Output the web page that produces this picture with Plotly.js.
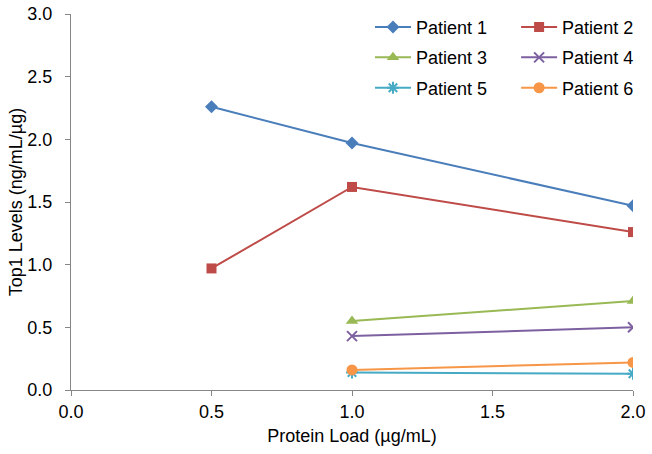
<!DOCTYPE html>
<html><head><meta charset="utf-8">
<script src="https://cdn.plot.ly/plotly-3.0.1.min.js"></script>
<style>html,body{margin:0;padding:0;background:#fff}#chart{width:652px;height:454px}</style>
</head><body><div id="chart"></div>
<script>
const patients = ["Patient 1","Patient 2","Patient 3","Patient 4","Patient 5","Patient 6"];
const xP1 = [0.5, 1.0, 2.0];
const yP1 = [2.26, 1.97, 1.47];
const xP2 = [0.5, 1.0, 2.0];
const yP2 = [0.97, 1.62, 1.26];
const xP3 = [1.0, 2.0];
const yP3 = [0.55, 0.71];
const xP4 = [1.0, 2.0];
const yP4 = [0.43, 0.50];
const xP5 = [1.0, 2.0];
const yP5 = [0.14, 0.13];
const xP6 = [1.0, 2.0];
const yP6 = [0.16, 0.22];
const xTicks = [0, 0.5, 1.0, 1.5, 2.0];
const yTicks = [0, 0.5, 1.0, 1.5, 2.0, 2.5, 3.0];

const colors = ["#4A7EBB","#BE4B48","#98B954","#7D60A0","#46AAC5","#F79646"];
const symbols = ["diamond","square","triangle-up","x-thin-open","asterisk-open","circle"];
const sizes = [10,10,11,10,10,11];
const xs = [xP1,xP2,xP3,xP4,xP5,xP6];
const ys = [yP1,yP2,yP3,yP4,yP5,yP6];
const legends = ["legend","legend2","legend","legend2","legend","legend2"];

const traces = patients.map((name,i)=>({
  x: xs[i], y: ys[i], name: name, type:"scatter", mode:"lines+markers",
  legend: legends[i], legendgroup: name,
  line:{color:colors[i], width:2},
  marker:{symbol:symbols[i], size:sizes[i], color:colors[i], line:{color:colors[i], width: (i===3||i===4)?2:0}}
}));

const fnt = {family:"Liberation Sans, Arial, sans-serif", size:18, color:"#000"};
const layout = {
  width:652, height:454,
  margin:{l:71, r:19, t:14, b:64, autoexpand:false},
  paper_bgcolor:"#fff", plot_bgcolor:"#fff",
  font: fnt,
  showlegend:true,
  xaxis:{range:[0,2], tickvals:xTicks, ticktext:xTicks.map(v=>v.toFixed(1)),
    showgrid:false, zeroline:false, showline:true, linecolor:"#868686", linewidth:1,
    ticks:"outside", ticklen:5, tickcolor:"#868686", tickfont:fnt,
    title:{text:"Protein Load (µg/mL)", font:fnt, standoff:8}},
  yaxis:{range:[0,3], tickvals:yTicks, ticktext:yTicks.map(v=>v.toFixed(1)),
    showgrid:false, zeroline:false, showline:true, linecolor:"#868686", linewidth:1,
    ticks:"outside", ticklen:5, tickcolor:"#868686", tickfont:fnt, ticklabelstandoff:9,
    title:{text:"Top1 Levels (ng/mL/µg)", font:fnt, standoff:0}},
  legend:{x:0.532, y:1.014, xanchor:"left", yanchor:"top", bgcolor:"rgba(0,0,0,0)",
    font:fnt, tracegroupgap:4, itemwidth:36},
  legend2:{x:0.792, y:1.014, xanchor:"left", yanchor:"top", bgcolor:"rgba(0,0,0,0)",
    font:fnt, tracegroupgap:4, itemwidth:36}
};
Plotly.newPlot("chart", traces, layout, {displayModeBar:false, staticPlot:true});
</script></body></html>
